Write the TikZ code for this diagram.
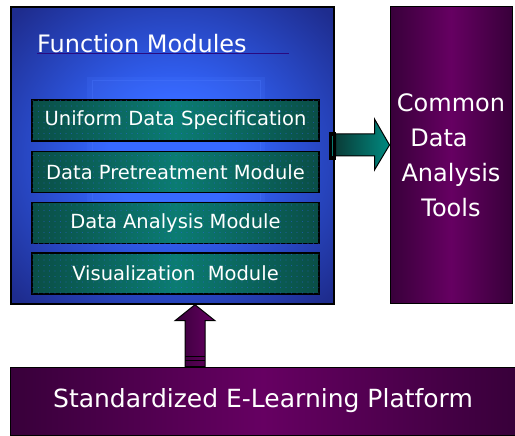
\documentclass[tikz,border=0pt]{standalone}
\usepackage{fontspec}
\setmainfont{DejaVu Sans}
\usetikzlibrary{calc,patterns.meta}

\definecolor{navyedge}{HTML}{1E2C8E}
\definecolor{bluecore}{HTML}{3366FF}
\definecolor{glowline}{HTML}{4A78FF}
\definecolor{tealdark}{HTML}{0A4E46}
\definecolor{tealmid}{HTML}{0B7C72}
\definecolor{arrowdark}{HTML}{0A3C38}
\definecolor{arrowlight}{HTML}{008A80}
\definecolor{purpdark}{HTML}{38003A}
\definecolor{purpmid}{HTML}{660062}
\definecolor{uline}{HTML}{2A0A80}

% soft glow: a wide bright core fading out towards the panel border
\pgfdeclareradialshading{panelglow}{\pgfpoint{0bp}{0bp}}{%
  color(0bp)=(bluecore); color(10bp)=(bluecore);
  color(34bp)=(navyedge); color(50bp)=(navyedge)}

\tikzset{
  panel/.style={draw=black, line width=1.4pt, inner sep=0pt},
  modbar/.style={draw=black, line width=1.3pt, inner sep=0pt,
    minimum width=287pt, minimum height=41pt,
    left color=tealdark, right color=tealdark, middle color=tealmid,
    postaction={fill opacity=0.45, pattern={Dots[distance=5.5pt, radius=0.55pt]},
      pattern color=bluecore},
    text=white, font=\fontsize{19.5}{22}\selectfont},
  purplepanel/.style={panel, line width=1pt,
    left color=purpdark, right color=purpdark, middle color=purpmid,
    text=white},
  blockarrow/.style={draw=black, line width=1pt, line join=miter},
}

\begin{document}
\begin{tikzpicture}[x=1pt, y=-1pt]
  \useasboundingbox (0,0) rectangle (515,436);
  \fill[white] (0,0) rectangle (515,436);

  % function modules panel with a soft glow in the middle
  \node[panel, minimum width=323pt, minimum height=297pt,
        shading=panelglow] (fm) at (172.5,155.5) {};
  \fill[glowline, opacity=0.18] (87,77) rectangle (265,205);
  \draw[glowline, opacity=0.35, line width=0.8pt] (92,80) rectangle (260,200);

  % panel title with its rule
  \node[anchor=base west, inner sep=0pt, text=white,
        font=\fontsize{24}{28}\selectfont] (title) at (37,53) {Function Modules};
  \coordinate (ruleend) at (289,54);
  \draw[uline, line width=1pt] ($(title.base west)+(0,1)$) -- (ruleend);

  % the four modules
  \node[modbar] (m1) at (175.5,120.5) {Uniform Data Specification};
  \node[modbar] (m2) at (175.5,172)   {Data Pretreatment Module};
  \node[modbar] (m3) at (175.5,223)   {Data Analysis Module};
  \node[modbar] (m4) at (175.5,273.5) {Visualization\ \ Module};

  % analysis tools panel
  \node[purplepanel, minimum width=122pt, minimum height=296pt,
        align=center, font=\fontsize{24}{35}\selectfont] (tools) at (451,155)
        {Common\\Data\rule{24pt}{0pt}\\Analysis\\Tools};

  % platform bar
  \node[purplepanel, minimum width=505pt, minimum height=68pt,
        font=\fontsize{25}{30}\selectfont] (platform) at (263,401)
        {Standardized E-Learning Platform};

  % arrow from the modules to the tools
  \coordinate (rtip) at (tools.west |- 0,145);
  \fill[black] ($(rtip)+(-61,-13)$) rectangle ($(rtip)+(-54,15)$);
  \draw[tealmid, line width=1pt] ($(rtip)+(-57.5,-9)$) -- ($(rtip)+(-57.5,11)$);
  \draw[blockarrow, left color=arrowdark, right color=arrowlight]
    ($(rtip)+(-54,-11)$) -- ($(rtip)+(-15,-11)$) -- ($(rtip)+(-15,-26)$)
    -- (rtip) -- ($(rtip)+(-15,25)$) -- ($(rtip)+(-15,11)$)
    -- ($(rtip)+(-54,11)$) -- cycle;

  % arrow from the platform up to the modules
  \coordinate (utip) at (fm.south -| 195,0);
  \coordinate (ubase) at (platform.north -| 195,0);
  \draw[blockarrow, left color=purpdark, right color=purpmid]
    (utip) -- ($(utip)+(20,16)$) -- ($(utip)+(10,16)$)
    -- ($(ubase)+(10,0)$) -- ($(ubase)+(-10,0)$)
    -- ($(utip)+(-10,16)$) -- ($(utip)+(-20,16)$) -- cycle;
  \draw[black, line width=1pt] ($(ubase)+(-10,-10)$) -- ($(ubase)+(10,-10)$);
  \draw[black, line width=1pt] ($(ubase)+(-10,-6)$) -- ($(ubase)+(10,-6)$);
\end{tikzpicture}
\end{document}
